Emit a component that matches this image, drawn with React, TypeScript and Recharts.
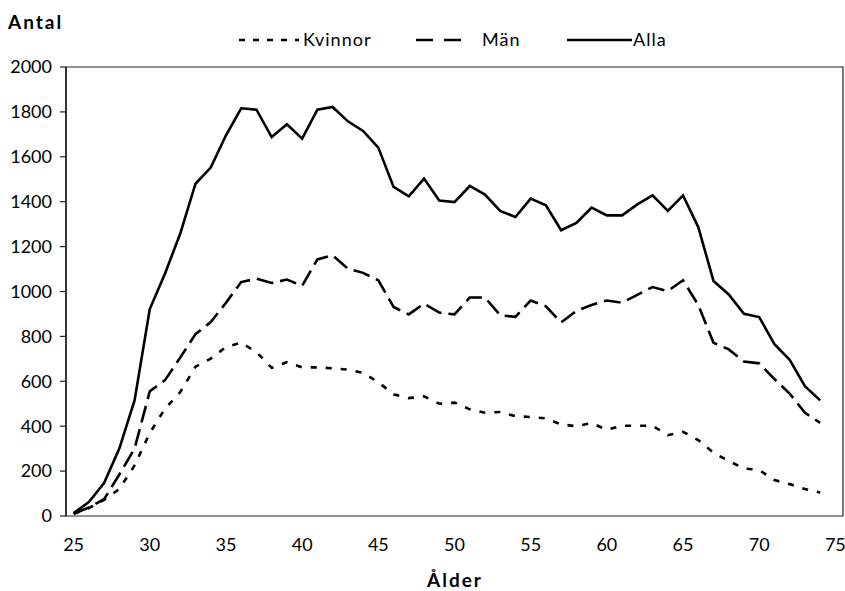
import React from "react";
import { LineChart, Line, XAxis, YAxis, ReferenceArea } from "recharts";

const ages: number[] = [
  25, 26, 27, 28, 29, 30, 31, 32, 33, 34, 35, 36, 37, 38, 39, 40, 41, 42, 43, 44,
  45, 46, 47, 48, 49, 50, 51, 52, 53, 54, 55, 56, 57, 58, 59, 60, 61, 62, 63, 64,
  65, 66, 67, 68, 69, 70, 71, 72, 73, 74,
];

const kvinnor: number[] = [
  10, 35, 72, 120, 225, 370, 478, 552, 665, 701, 753, 772, 730, 660, 685, 662, 662, 658, 652, 638,
  596, 542, 525, 533, 500, 505, 475, 460, 463, 445, 441, 435, 408, 400, 414, 384, 402, 402, 402, 360,
  375, 338, 282, 245, 212, 205, 160, 142, 120, 105,
];

const man: number[] = [
  10, 38, 75, 185, 300, 556, 605, 706, 810, 864, 950, 1042, 1057, 1038, 1053, 1025, 1143, 1161, 1102, 1083,
  1050, 931, 898, 946, 906, 898, 973, 973, 894, 887, 960, 934, 862, 914, 940, 960, 950, 985, 1020, 1002,
  1050, 940, 772, 742, 688, 680, 610, 545, 460, 415,
];

const alla: number[] = [
  13, 62, 147, 300, 515, 922, 1080, 1258, 1480, 1552, 1696, 1816, 1810, 1688, 1745, 1681, 1810, 1822, 1758, 1715,
  1641, 1466, 1424, 1503, 1405, 1398, 1470, 1432, 1359, 1332, 1414, 1384, 1273, 1305, 1374, 1339, 1339, 1388, 1428, 1359,
  1428, 1287, 1047, 987, 901, 886, 765, 696, 578, 515,
];

const yTicks: number[] = [0, 200, 400, 600, 800, 1000, 1200, 1400, 1600, 1800, 2000];
const xLabelTicks: number[] = [25, 30, 35, 40, 45, 50, 55, 60, 65, 70, 75];
const xMarkTicks: number[] = Array.from({ length: 52 }, (_, i) => 24.5 + i);

const data = ages.map((age, i) => ({
  age,
  Kvinnor: kvinnor[i],
  "Män": man[i],
  Alla: alla[i],
}));

const FONT = "Lato, 'Open Sans', sans-serif";
const AXIS = "#222";

const legendItems = [
  { name: "Kvinnor", dash: "6 8", x1: 239, x2: 299, tx: 303 },
  { name: "Män", dash: "17 11", x1: 416, x2: 472, tx: 482 },
  { name: "Alla", dash: undefined as string | undefined, x1: 567, x2: 632, tx: 633 },
];

const EmptyTick = () => <g />;

export default function App() {
  return (
    <div style={{ position: "absolute", left: 0, top: 0, width: 845, height: 591, background: "#fff", fontFamily: FONT }}>
      <LineChart
        width={845}
        height={591}
        data={data}
        margin={{ top: 67, right: 2, left: 0, bottom: 0 }}
      >
        <XAxis
          xAxisId="marks"
          dataKey="age"
          type="number"
          domain={[24.5, 75.5]}
          allowDataOverflow
          ticks={xMarkTicks}
          interval={0}
          tick={EmptyTick}
          tickSize={6}
          height={0}
          stroke={AXIS}
          axisLine={{ stroke: AXIS, strokeWidth: 1.5 }}
          tickLine={{ stroke: AXIS, strokeWidth: 1.2 }}
        />
        <XAxis
          xAxisId="labels"
          dataKey="age"
          type="number"
          domain={[24.5, 75.5]}
          allowDataOverflow
          ticks={xLabelTicks}
          interval={0}
          axisLine={false}
          tickLine={false}
          tickSize={6}
          tickMargin={16}
          height={75}
          tick={{ fill: "#000", fontSize: 18, fontFamily: FONT }}
        />
        <YAxis
          domain={[0, 2000]}
          ticks={yTicks}
          interval={0}
          width={66}
          tickSize={6}
          tickMargin={8}
          axisLine={{ stroke: AXIS, strokeWidth: 1.5 }}
          tickLine={{ stroke: AXIS, strokeWidth: 1.2 }}
          tick={{ fill: "#000", fontSize: 18, fontFamily: FONT }}
        />
        <ReferenceArea
          xAxisId="marks"
          x1={24.5}
          x2={75.5}
          y1={0}
          y2={2000}
          fill="none"
          fillOpacity={0}
          stroke={AXIS}
          strokeWidth={1.2}
          ifOverflow="visible"
        />
        <Line
          xAxisId="marks"
          type="linear"
          dataKey="Kvinnor"
          stroke="#000"
          strokeWidth={2.6}
          strokeDasharray="6 9"
          dot={false}
          activeDot={false}
          isAnimationActive={false}
        />
        <Line
          xAxisId="marks"
          type="linear"
          dataKey="Män"
          stroke="#000"
          strokeWidth={2.6}
          strokeDasharray="17 7"
          dot={false}
          activeDot={false}
          isAnimationActive={false}
        />
        <Line
          xAxisId="marks"
          type="linear"
          dataKey="Alla"
          stroke="#000"
          strokeWidth={2.6}
          dot={false}
          activeDot={false}
          isAnimationActive={false}
        />
      </LineChart>

      <svg width={845} height={60} style={{ position: "absolute", left: 0, top: 0, pointerEvents: "none" }}>
        <text x={8} y={29} fontFamily={FONT} fontSize={19} fontWeight={700} letterSpacing={2} fill="#000">Antal</text>
        {legendItems.map((it) => (
          <g key={it.name}>
            <line x1={it.x1} x2={it.x2} y1={40} y2={40} stroke="#000" strokeWidth={2.6} strokeDasharray={it.dash} />
            <text x={it.tx} y={46} fontFamily={FONT} fontSize={18} letterSpacing={1} fill="#000">{it.name}</text>
          </g>
        ))}
      </svg>
      <svg width={845} height={40} style={{ position: "absolute", left: 0, top: 551, pointerEvents: "none" }}>
        <text x={455} y={36} textAnchor="middle" fontFamily={FONT} fontSize={19} fontWeight={700} letterSpacing={2} fill="#000">Ålder</text>
      </svg>
    </div>
  );
}
